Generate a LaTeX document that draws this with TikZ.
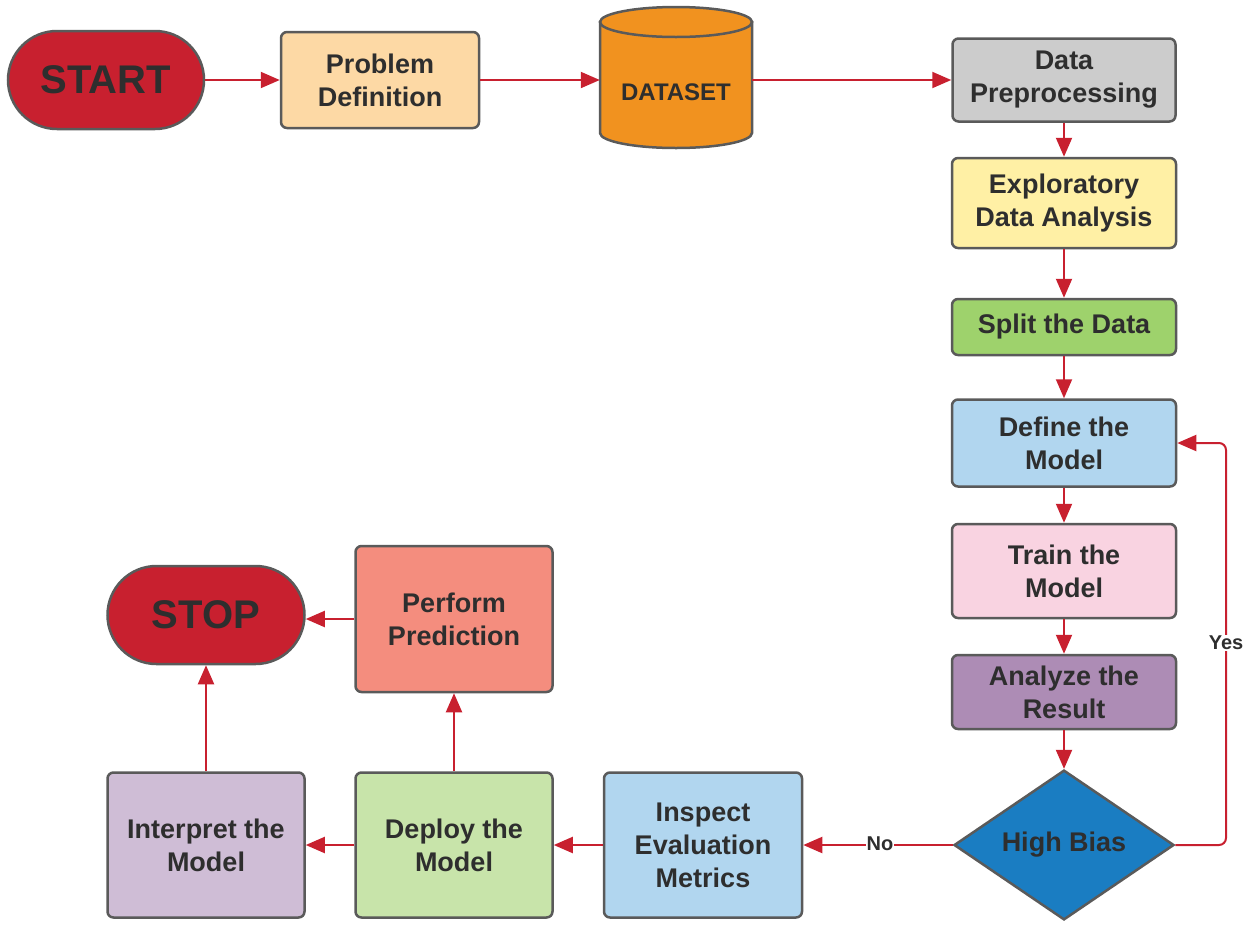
\documentclass[tikz,border=0pt]{standalone}
\usepackage{fontspec}
\setmainfont{Liberation Sans}
\usetikzlibrary{arrows.meta,shapes.geometric,shapes.misc}
\definecolor{termred}{HTML}{C8202F}
\definecolor{peach}{HTML}{FDD9A5}
\definecolor{dsorange}{HTML}{F1921F}
\definecolor{prepgray}{HTML}{CCCCCC}
\definecolor{edayellow}{HTML}{FFF0A5}
\definecolor{splitgreen}{HTML}{9ED26C}
\definecolor{lblue}{HTML}{B1D6EF}
\definecolor{trainpink}{HTML}{F9D3E1}
\definecolor{anapurple}{HTML}{AD8CB5}
\definecolor{biasblue}{HTML}{1A7DC2}
\definecolor{deploygreen}{HTML}{C8E4AA}
\definecolor{interlilac}{HTML}{CFBDD6}
\definecolor{perfsalmon}{HTML}{F48D7E}
\definecolor{bordergray}{HTML}{5A5A5A}
\definecolor{arrred}{HTML}{C8202F}
\definecolor{textdark}{HTML}{2E2E2E}
\newcommand{\boxfont}{\fontsize{27}{33}\selectfont\bfseries}
\newcommand{\termfont}{\fontsize{40}{44}\selectfont\bfseries}
\tikzset{
  stepbox/.style={draw=bordergray, line width=2.5pt, rounded corners=6pt, align=center,
    text=textdark, font=\boxfont, inner sep=0pt},
  termbox/.style={rounded rectangle, draw=bordergray, line width=2.5pt, fill=termred,
    text=textdark, font=\termfont, inner sep=0pt},
  decbox/.style={diamond, draw=bordergray, line width=2.5pt, fill=biasblue, text=textdark,
    font=\boxfont, inner sep=0pt},
  arr/.style={draw=arrred, line width=2pt, -{Triangle[length=19pt,width=16pt]}},
  lbl/.style={fill=white, text=textdark, font=\fontsize{20}{22}\selectfont\bfseries, inner sep=1pt}
}
\begin{document}
\begin{tikzpicture}[x=1pt,y=-1pt]
\useasboundingbox (0,0) rectangle (1250,927);
% top row
\node[termbox, minimum width=196, minimum height=98] (start) at (106,80) {START};
\node[stepbox, fill=peach, minimum width=198, minimum height=96] (prob) at (380,80) {Problem\\Definition};
% dataset cylinder
\node[minimum width=152, minimum height=143, inner sep=0pt] (ds) at (676,77) {};
\filldraw[draw=bordergray, fill=dsorange, line width=2.5pt]
  (600,22) -- (600,133) arc[start angle=180, end angle=0, x radius=76, y radius=15] -- (752,22) -- cycle;
\filldraw[draw=bordergray, fill=dsorange, line width=2.5pt] (676,22) ellipse[x radius=76, y radius=15];
\node[text=textdark, font=\fontsize{24}{28}\selectfont\bfseries] (dstext) at (676,92) {DATASET};
\node[stepbox, fill=prepgray, minimum width=223, minimum height=83] (prep) at (1064,80) {Data\\Preprocessing};
% right column
\node[stepbox, fill=edayellow, minimum width=224, minimum height=90] (eda) at (1064,203) {Exploratory\\Data Analysis};
\node[stepbox, fill=splitgreen, minimum width=224, minimum height=56] (split) at (1064,327) {Split the Data};
\node[stepbox, fill=lblue, minimum width=224, minimum height=87] (define) at (1064,443) {Define the\\Model};
\node[stepbox, fill=trainpink, minimum width=224, minimum height=94] (train) at (1064,571) {Train the\\Model};
\node[stepbox, fill=anapurple, minimum width=224, minimum height=74] (analyze) at (1064,692) {Analyze the\\Result};
\node[decbox, minimum width=220, minimum height=145] (bias) at (1064,845) {High Bias};
% bottom row
\node[stepbox, fill=lblue, minimum width=198, minimum height=145] (inspect) at (703,845) {Inspect\\Evaluation\\Metrics};
\node[stepbox, fill=deploygreen, minimum width=197, minimum height=145] (deploy) at (454,845) {Deploy the\\Model};
\node[stepbox, fill=interlilac, minimum width=197, minimum height=145] (interp) at (206,845) {Interpret the\\Model};
\node[stepbox, fill=perfsalmon, minimum width=197, minimum height=146] (perf) at (454,619) {Perform\\Prediction};
\node[termbox, minimum width=197, minimum height=98] (stop) at (206,615) {STOP};
% connectors
\draw[arr] (start.east) -- (prob.west);
\draw[arr] (prob.east) -- (prob.east -| ds.west);
\draw[arr] (prob.east -| ds.east) -- (prep.west);
\draw[arr] (prep.south) -- (eda.north);
\draw[arr] (eda.south) -- (split.north);
\draw[arr] (split.south) -- (define.north);
\draw[arr] (define.south) -- (train.north);
\draw[arr] (train.south) -- (analyze.north);
\draw[arr] (analyze.south) -- (bias.north);
\coordinate (yescorner) at (1226,845);
\draw[arr, rounded corners=7pt] (bias.east) -- (yescorner) -- (yescorner |- define.east) -- (define.east);
\node[lbl] (yes) at (1226,643) {Yes};
\draw[arr] (bias.west) -- (inspect.east);
\node[lbl] (no) at (880,844) {No};
\draw[arr] (inspect.west) -- (deploy.east);
\draw[arr] (deploy.west) -- (interp.east);
\draw[arr] (deploy.north) -- (perf.south);
\draw[arr] (perf.west) -- (perf.west -| stop.east);
\draw[arr] (interp.north) -- (stop.south);
\end{tikzpicture}
\end{document}
